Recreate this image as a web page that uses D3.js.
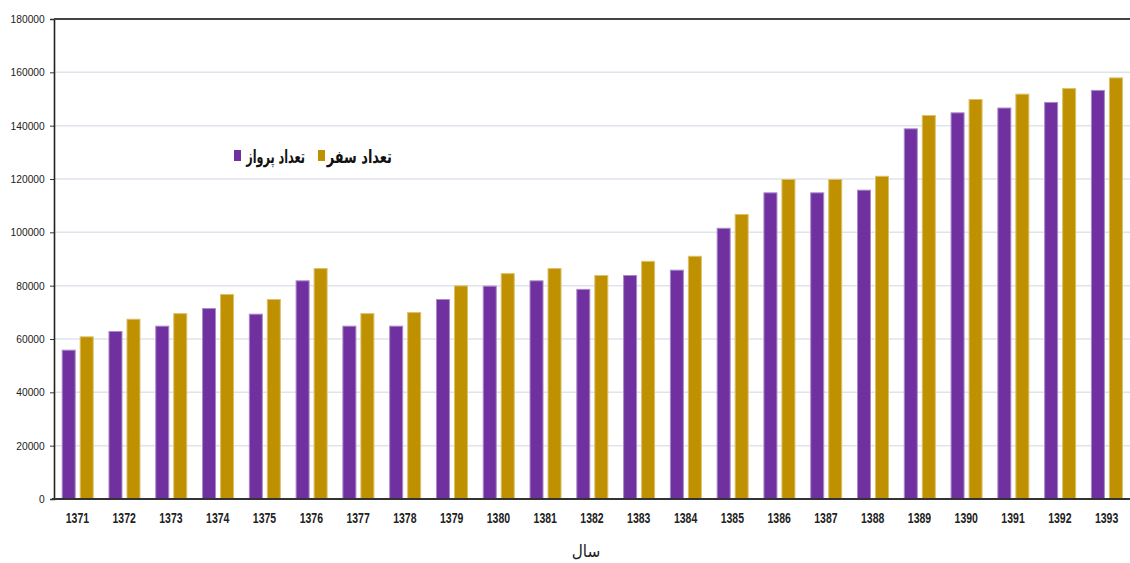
<!DOCTYPE html>
<html>
<head>
<meta charset="utf-8">
<script src="https://cdn.jsdelivr.net/npm/d3@7"></script>
<style>
  html, body { margin: 0; padding: 0; background: #fff; }
  svg { display: block; }
</style>
</head>
<body>
<svg id="chart" width="1130" height="563"></svg>
<script>
// Years (Persian calendar)
const years = ["1371","1372","1373","1374","1375","1376","1377","1378","1379","1380","1381","1382",
               "1383","1384","1385","1386","1387","1388","1389","1390","1391","1392","1393"];
// تعداد پرواز
const flights = [56000, 63000, 65000, 71600, 69500, 82000, 65000, 65000, 75000, 80000, 82000, 78800,
                 84000, 86000, 101700, 115000, 115000, 116000, 139000, 145000, 146800, 148900, 153400];
// تعداد سفر
const trips = [61000, 67600, 69700, 76900, 75000, 86600, 69700, 70100, 80100, 84700, 86600, 84000,
               89300, 91200, 106900, 120000, 120000, 121200, 144000, 150000, 152000, 154100, 158100];
const seriesNames = ["تعداد پرواز", "تعداد سفر"];
const seriesColors = ["#7030a0", "#bf9000"];
const seriesEdge = ["#a98bc8", "#dcc06a"];
const yTicks = [0, 20000, 40000, 60000, 80000, 100000, 120000, 140000, 160000, 180000];
const xTitle = "سال";

const svg = d3.select("#chart");
const plotLeft = 54, plotRight = 1130, plotTop = 19, plotBottom = 499;

const x0 = d3.scaleBand().domain(years).range([plotLeft, plotRight]).paddingInner(0).paddingOuter(0);
const x1 = d3.scaleBand().domain([0, 1]).range([7.7, 39.7]).paddingInner(4 / 18).paddingOuter(0);
const y = d3.scaleLinear().domain([0, 180000]).range([plotBottom, plotTop]);

// Horizontal gridlines
svg.append("g")
  .selectAll("line")
  .data(yTicks.filter(t => t > 0 && t < 180000))
  .join("line")
  .attr("x1", plotLeft).attr("x2", plotRight)
  .attr("y1", d => y(d)).attr("y2", d => y(d))
  .attr("stroke", "#dfe3ec").attr("stroke-width", 1.5);

// Bars
const rows = years.map((yr, i) => ({ yr, vals: [flights[i], trips[i]] }));
const groups = svg.append("g").selectAll("g")
  .data(rows).join("g")
  .attr("transform", d => `translate(${x0(d.yr)},0)`);
groups.selectAll("rect")
  .data(d => d.vals.map((v, k) => ({ v, k })))
  .join("rect")
  .attr("x", d => x1(d.k) + 0.5)
  .attr("width", x1.bandwidth() - 1)
  .attr("y", d => y(d.v) + 0.5)
  .attr("height", d => plotBottom - y(d.v) - 0.5)
  .attr("fill", d => seriesColors[d.k])
  .attr("stroke", d => seriesEdge[d.k])
  .attr("stroke-width", 1);

// Y axis
const yAxis = svg.append("g")
  .attr("transform", `translate(${plotLeft},0)`)
  .call(d3.axisLeft(y).tickValues(yTicks).tickSize(4).tickPadding(6).tickFormat(d3.format("d")));
yAxis.select(".domain").attr("stroke", "#222").attr("stroke-width", 1.6);
yAxis.selectAll(".tick line").attr("stroke", "#333");
yAxis.selectAll(".tick text")
  .attr("fill", "#222")
  .style("font-family", "'Liberation Sans', Arial, sans-serif")
  .style("font-size", "11px")
  .attr("transform", "scale(0.93,1)");

// Top border and baseline
svg.append("line").attr("x1", plotLeft).attr("x2", plotRight).attr("y1", plotTop).attr("y2", plotTop)
  .attr("stroke", "#444").attr("stroke-width", 2);
svg.append("line").attr("x1", plotLeft - 2).attr("x2", plotRight).attr("y1", plotBottom).attr("y2", plotBottom)
  .attr("stroke", "#333").attr("stroke-width", 2);

// X labels
svg.append("g").selectAll("text")
  .data(years).join("text")
  .attr("transform", d => `translate(${x0(d) + x0.bandwidth() / 2},523) scale(0.7,1)`)
  .attr("text-anchor", "middle")
  .style("font-family", "'Liberation Sans', Arial, sans-serif")
  .style("font-size", "15px")
  .style("font-weight", "bold")
  .attr("fill", "#222")
  .text(d => d);

// X title
svg.append("text")
  .attr("transform", "translate(586,557) scale(0.9,1)")
  .attr("text-anchor", "middle")
  .style("font-family", "'DejaVu Sans', sans-serif")
  .style("font-size", "17px")
  .attr("fill", "#222")
  .text(xTitle);

// Legend: swatch followed by its label, each label narrowed horizontally
const legendItems = [
  { sx: 234, tx: 305, sc: 0.62, k: 0 },
  { sx: 318, tx: 392, sc: 0.72, k: 1 }
];
const legend = svg.append("g");
legendItems.forEach(it => {
  legend.append("rect")
    .attr("x", it.sx).attr("y", 150).attr("width", 7).attr("height", 11)
    .attr("fill", seriesColors[it.k]);
  legend.append("text")
    .attr("transform", `translate(${it.tx},163) scale(${it.sc},1)`)
    .attr("text-anchor", "end")
    .style("font-family", "'DejaVu Sans', sans-serif")
    .style("font-size", "18px")
    .style("font-weight", "bold")
    .attr("fill", "#111")
    .text(seriesNames[it.k]);
});
</script>
</body>
</html>
